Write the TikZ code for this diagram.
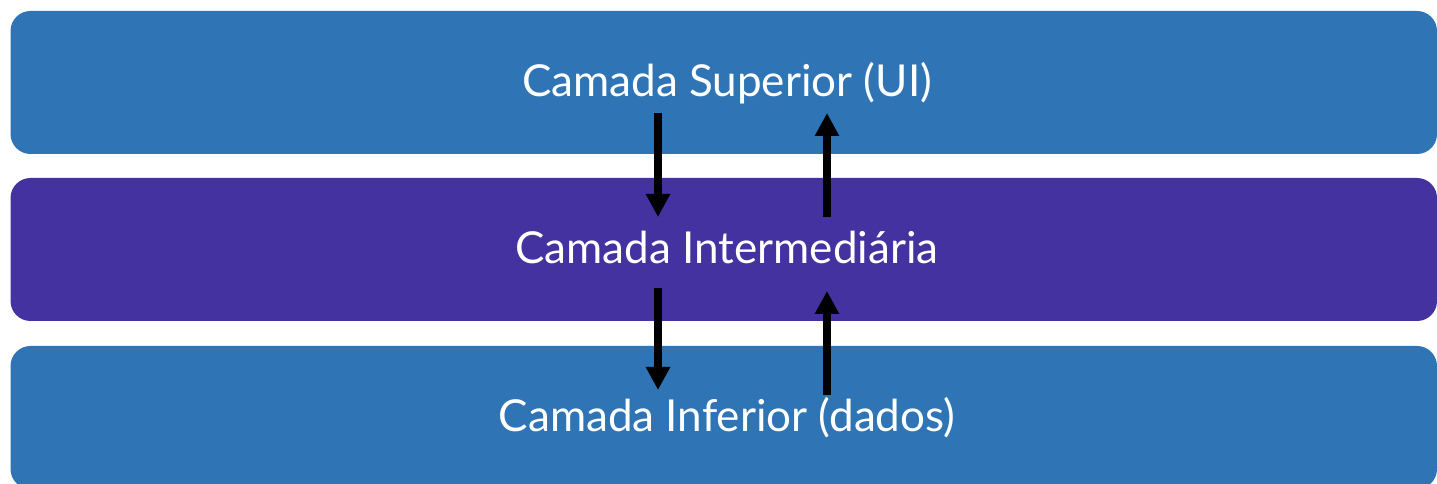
\documentclass[tikz,border=0pt]{standalone}
\usepackage{fontspec}
\setmainfont{Lato}
\usetikzlibrary{arrows.meta}
\definecolor{layerblue}{RGB}{47,117,181}
\definecolor{layerpurple}{RGB}{67,50,160}
\begin{document}
\begin{tikzpicture}[x=1pt,y=1pt,
  layer/.style={rounded corners=20pt},
  lbl/.style={text=white,font=\fontsize{44}{52}\selectfont,inner sep=0pt,anchor=base},
  flow/.style={line width=7.5pt,-{Triangle[width=23pt,length=23pt]}}]
\useasboundingbox (0,0) rectangle (1437,484);
\begin{scope}
\clip (0,0) rectangle (1437,484);
\fill[layerblue,layer] (10.5,484-11) rectangle (1437,484-154);
\fill[layerpurple,layer] (10.5,484-178) rectangle (1437,484-321);
\fill[layerblue,layer] (10.5,484-346) rectangle (1437,484-489);
\end{scope}
\node[lbl] (top) at (727,484-97) {Camada Superior (UI)};
\node[lbl] (mid) at (727,484-264) {Camada Intermediária};
\node[lbl] (bot) at (727,484-432) {Camada Inferior (dados)};
\coordinate (d1s) at (658,484-113);
\coordinate (d1e) at (658,484-217);
\coordinate (u1s) at (827,484-217);
\coordinate (u1e) at (827,484-113);
\coordinate (d2s) at (658,484-288);
\coordinate (d2e) at (658,484-390);
\coordinate (u2s) at (827,484-395);
\coordinate (u2e) at (827,484-291);
\draw[flow] (d1s) -- (d1e);
\draw[flow] (u1s) -- (u1e);
\draw[flow] (d2s) -- (d2e);
\draw[flow] (u2s) -- (u2e);
\end{tikzpicture}
\end{document}
